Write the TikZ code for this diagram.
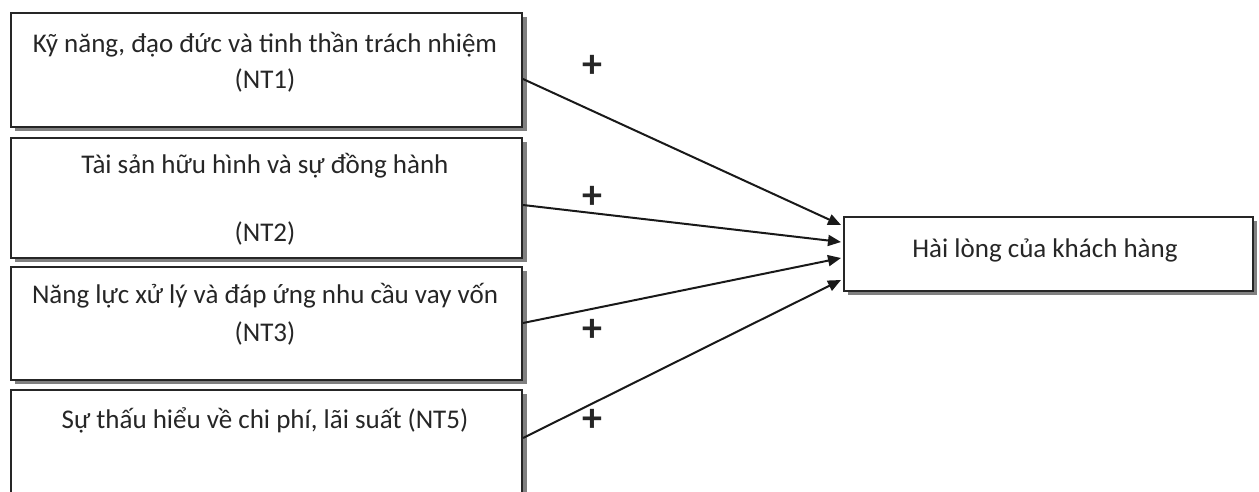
\documentclass[tikz,border=0pt]{standalone}
\usepackage{fontspec}
\setmainfont{Carlito}
\usetikzlibrary{arrows.meta,calc}
\begin{document}
\begin{tikzpicture}[x=1pt,y=-1pt,
  box/.style={draw=black!85,line width=2pt,fill=white,inner sep=0pt,anchor=north west},
  shade/.style={fill=black!50,draw=none},
  txt/.style={font=\fontsize{27}{32}\selectfont,text=black!85,inner sep=0pt},
  plus/.style={font=\fontsize{40}{40}\selectfont\bfseries,text=black!85,inner sep=0pt},
  conn/.style={line width=2pt,draw=black!90,-{Triangle[length=13pt,width=11pt]}}]
\useasboundingbox (0,0) rectangle (1259,492);
\clip (0,0) rectangle (1259,492);
% shadows
\fill[shade] (15,17) rectangle (527,131);
\fill[shade] (15,142) rectangle (527,262);
\fill[shade] (15,271) rectangle (527,384);
\fill[shade] (15,394) rectangle (527,520);
\fill[shade] (848,221) rectangle (1257,295);
% boxes
\node[box,minimum width=511pt,minimum height=114pt] (B1) at (10,12) {};
\node[box,minimum width=511pt,minimum height=120pt] (B2) at (10,137) {};
\node[box,minimum width=511pt,minimum height=113pt] (B3) at (10,266) {};
\node[box,minimum width=511pt,minimum height=125pt] (B4) at (10,389) {};
\node[box,minimum width=409pt,minimum height=74pt] (T) at (843,216) {};
% texts
\node[txt] (t1a) at (265,45) {Kỹ năng, đạo đức và tinh thần trách nhiệm};
\node[txt] (t1b) at (265,80) {(NT1)};
\node[txt] (t2a) at (265,166) {Tài sản hữu hình và sự đồng hành};
\node[txt] (t2b) at (265,233) {(NT2)};
\node[txt] (t3a) at (265,296) {Năng lực xử lý và đáp ứng nhu cầu vay vốn};
\node[txt] (t3b) at (265,333) {(NT3)};
\node[txt] (t4a) at (265,420) {Sự thấu hiểu về chi phí, lãi suất (NT5)};
\node[txt] (tT) at (1045,250) {Hài lòng của khách hàng};
% connectors
\draw[conn] ($(B1.north east)+(0,67)$) -- ($(T.north west)+(-2,9)$);
\draw[conn] ($(B2.north east)+(0,68)$) -- ($(T.north west)+(-2,26)$);
\draw[conn] ($(B3.north east)+(0,57)$) -- ($(T.north west)+(-2,42)$);
\draw[conn] ($(B4.north east)+(0,49)$) -- ($(T.north west)+(-2,64)$);
% plus signs
\node[plus] (p1) at (592,66) {+};
\node[plus] (p2) at (592,197) {+};
\node[plus] (p3) at (592,330) {+};
\node[plus] (p4) at (592,420) {+};
\end{tikzpicture}
\end{document}
